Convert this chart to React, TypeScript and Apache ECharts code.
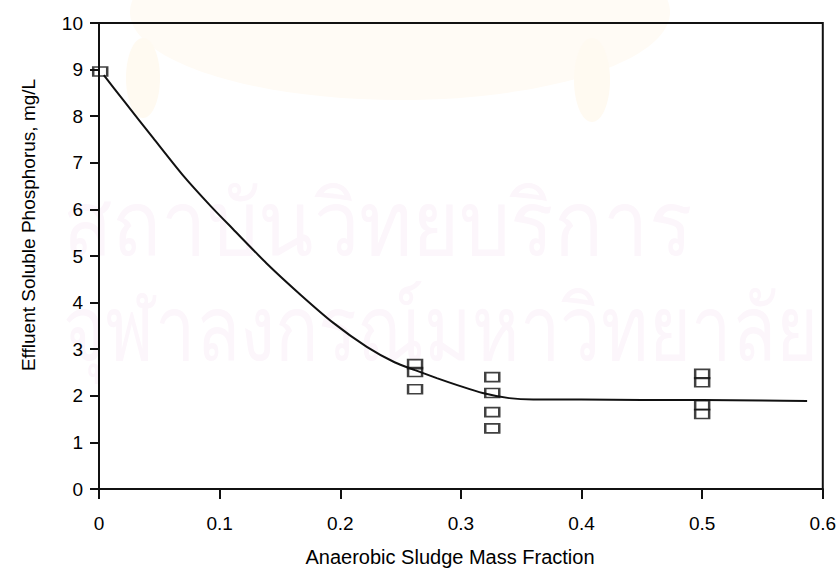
import React, { useEffect, useRef } from "react";
import * as echarts from "echarts";

const xTickLabels = ["0", "0.1", "0.2", "0.3", "0.4", "0.5", "0.6"];
const yTickLabels = ["0", "1", "2", "3", "4", "5", "6", "7", "8", "9", "10"];

const curveX = [0.004, 0.02, 0.045, 0.07, 0.093, 0.111, 0.139, 0.167, 0.194, 0.222, 0.245, 0.262, 0.28, 0.297, 0.318, 0.34, 0.36, 0.4, 0.45, 0.5, 0.55, 0.587];
const curveY = [8.88, 8.35, 7.53, 6.72, 6.06, 5.58, 4.84, 4.17, 3.57, 3.05, 2.72, 2.55, 2.38, 2.23, 2.06, 1.95, 1.92, 1.92, 1.91, 1.91, 1.9, 1.89];

const pointX = [0.001, 0.262, 0.262, 0.262, 0.326, 0.326, 0.326, 0.326, 0.5, 0.5, 0.5, 0.5];
const pointY = [8.96, 2.68, 2.51, 2.14, 2.4, 2.06, 1.65, 1.3, 2.47, 2.29, 1.8, 1.61];

const xTitle = "Anaerobic Sludge Mass Fraction";
const yTitle = "Effluent Soluble Phosphorus, mg/L";
const watermark1 = "สถาบันวิทยบริการ";
const watermark2 = "จุฬาลงกรณ์มหาวิทยาลัย";

const FONT = "'Liberation Sans', Arial, Helvetica, sans-serif";

export default function App() {
  const ref = useRef<HTMLDivElement>(null);
  useEffect(() => {
    if (!ref.current) return;
    const chart = echarts.init(ref.current, undefined, { renderer: "svg" });
    const axisColor = "#111";
    chart.setOption({
      animation: false,
      backgroundColor: "#ffffff",
      grid: {
        left: 99,
        right: 16,
        top: 23,
        bottom: 81,
        show: true,
        borderColor: axisColor,
        borderWidth: 2,
        backgroundColor: "transparent",
      },
      graphic: [
        {
          type: "ellipse",
          z: -10,
          shape: { cx: 400, cy: 12, rx: 270, ry: 88 },
          style: { fill: "#fffbf5" },
          silent: true,
        },
        {
          type: "ellipse",
          z: -9,
          shape: { cx: 143, cy: 78, rx: 17, ry: 40 },
          style: { fill: "#fffaf1" },
          silent: true,
        },
        {
          type: "ellipse",
          z: -9,
          shape: { cx: 592, cy: 80, rx: 18, ry: 42 },
          style: { fill: "#fffaf1" },
          silent: true,
        },
        {
          type: "text",
          z: -5,
          x: 63,
          y: 175,
          scaleX: 0.9,
          silent: true,
          style: {
            text: watermark1,
            fill: "#fcf6fb",
            font: "normal 90px 'Noto Sans', 'DejaVu Sans', sans-serif",
            textVerticalAlign: "top",
          },
        },
        {
          type: "text",
          z: -5,
          x: 63,
          y: 280,
          scaleX: 0.8,
          silent: true,
          style: {
            text: watermark2,
            fill: "#fcf6fb",
            font: "normal 90px 'Noto Sans', 'DejaVu Sans', sans-serif",
            textVerticalAlign: "top",
          },
        },
        {
          type: "text",
          x: 450,
          y: 557,
          silent: true,
          style: {
            text: xTitle,
            fill: "#000",
            font: `normal 20px ${FONT}`,
            textAlign: "center",
            textVerticalAlign: "middle",
          },
        },
        {
          type: "text",
          x: 28,
          y: 225,
          rotation: Math.PI / 2,
          silent: true,
          style: {
            text: yTitle,
            fill: "#000",
            font: `normal 19px ${FONT}`,
            textAlign: "center",
            textVerticalAlign: "middle",
          },
        },
      ],
      xAxis: {
        type: "value",
        min: 0,
        max: 0.6,
        interval: 0.1,
        splitLine: { show: false },
        axisLine: { show: true, lineStyle: { color: axisColor, width: 2 } },
        axisTick: { show: true, inside: false, length: 10, lineStyle: { color: axisColor, width: 2 } },
        axisLabel: {
          margin: 25,
          color: "#000",
          fontSize: 19,
          fontFamily: FONT,
          formatter: (v: number) => xTickLabels[Math.round(v * 10)] ?? "",
        },
      },
      yAxis: {
        type: "value",
        min: 0,
        max: 10,
        interval: 1,
        splitLine: { show: false },
        axisLine: { show: true, lineStyle: { color: axisColor, width: 2 } },
        axisTick: { show: true, inside: false, length: 9, lineStyle: { color: axisColor, width: 2 } },
        axisLabel: {
          margin: 16,
          color: "#000",
          fontSize: 19,
          fontFamily: FONT,
          formatter: (v: number) => yTickLabels[Math.round(v)] ?? "",
        },
      },
      series: [
        {
          type: "line",
          data: curveX.map((x, i) => [x, curveY[i]]),
          showSymbol: false,
          smooth: 0.25,
          clip: false,
          lineStyle: { color: "#111", width: 2 },
          z: 3,
        },
        {
          type: "scatter",
          data: pointX.map((x, i) => [x, pointY[i]]),
          symbol: "rect",
          symbolSize: [14, 9],
          clip: false,
          itemStyle: { color: "rgba(255,255,255,0)", borderColor: "#111", borderWidth: 2 },
          z: 4,
        },
      ],
    });
    return () => chart.dispose();
  }, []);
  return (
    <div
      ref={ref}
      style={{ position: "fixed", left: 0, top: 0, width: 839, height: 570 }}
    />
  );
}
